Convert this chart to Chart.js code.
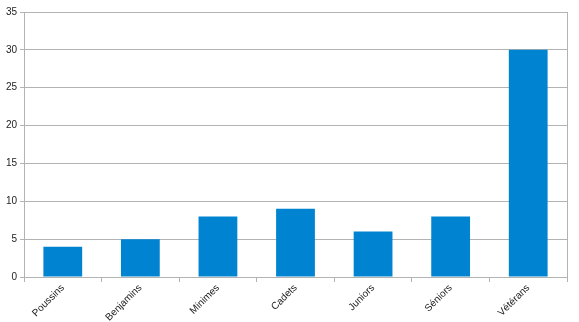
<!DOCTYPE html>
<html><head><meta charset="utf-8">
<script src="https://cdn.jsdelivr.net/npm/chart.js@4/dist/chart.umd.min.js"></script>
<style>html,body{margin:0;padding:0;background:#fff}#wrap{width:579px;height:322px}</style>
</head><body><div id="wrap"><canvas id="c" width="579" height="322"></canvas></div>
<script>
const categories = ["Poussins","Benjamins","Minimes","Cadets","Juniors","Séniors","Vétérans"];
const values = [4,5,8,9,6,8,30];
const yTicks = [0,5,10,15,20,25,30,35];

const frame = {
  id:'frame',
  afterDraw(chart){
    const {ctx, chartArea:a} = chart;
    ctx.save();
    ctx.strokeStyle='#b3b3b3';ctx.lineWidth=1;
    ctx.beginPath();ctx.moveTo(Math.round(a.right)+0.5,a.top);ctx.lineTo(Math.round(a.right)+0.5,a.bottom);ctx.stroke();
    ctx.restore();
  }
};

new Chart(document.getElementById('c'),{
  type:'bar',
  data:{labels:categories,datasets:[{data:values,backgroundColor:'#0083d0',borderWidth:0,barPercentage:0.5,categoryPercentage:1}]},
  options:{
    responsive:false,animation:false,
    layout:{padding:{top:12,right:12,left:0,bottom:0}},
    plugins:{legend:{display:false},tooltip:{enabled:false}},
    scales:{
      x:{
        afterFit(s){s.height=45;},
        offset:true,
        grid:{offset:true,drawOnChartArea:false,color:'#b3b3b3',tickLength:5},
        border:{color:'#b3b3b3'},
        ticks:{minRotation:45,maxRotation:45,autoSkip:false,color:'#222',font:{family:'Liberation Sans',size:10},padding:0}
      },
      y:{
        min:0,max:35,
        afterFit(s){s.width=24;},
        afterBuildTicks(s){s.ticks=yTicks.map(v=>({value:v}));},
        grid:{color:'#b3b3b3',tickLength:4},
        border:{color:'#b3b3b3'},
        ticks:{color:'#222',font:{family:'Liberation Sans',size:10},padding:3}
      }
    }
  },
  plugins:[frame]
});
</script></body></html>
